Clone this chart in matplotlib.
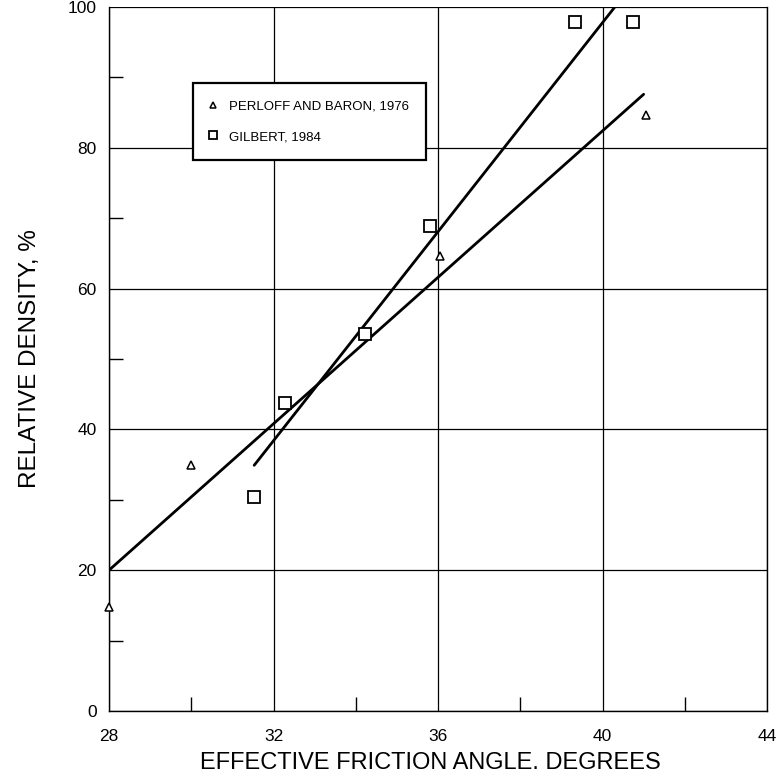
import matplotlib
matplotlib.use("Agg")
import matplotlib.pyplot as plt
from matplotlib.ticker import MultipleLocator

plt.rcParams['font.family'] = ['Liberation Sans', 'DejaVu Sans']

# Data
perloff_x = [28.0, 30.0, 36.05, 41.05]
perloff_y = [14.8, 35.0, 64.7, 84.7]
gilbert_x = [31.53, 32.28, 34.23, 35.81, 39.34, 40.73]
gilbert_y = [30.4, 43.8, 53.6, 68.9, 97.9, 97.9]
perloff_fit_x = [28.0, 41.0]
perloff_fit_y = [20.0, 87.6]
gilbert_fit_x = [31.53, 40.3]
gilbert_fit_y = [34.9, 100.0]
x_ticks = [28, 32, 36, 40, 44]
y_ticks = [0, 20, 40, 60, 80, 100]

fig = plt.figure(figsize=(7.76, 7.75), dpi=100)
ax = fig.add_axes([109/776, 1-711/775, (767-109)/776, (711-7)/775])

ax.set_xlim(28, 44)
ax.set_ylim(0, 100)
ax.set_xticks(x_ticks)
ax.set_yticks(y_ticks)
ax.xaxis.set_minor_locator(MultipleLocator(2))
ax.yaxis.set_minor_locator(MultipleLocator(10))
ax.tick_params(which='major', length=0, labelsize=12.5)
ax.tick_params(axis='y', which='major', pad=9)
ax.tick_params(axis='x', which='major', pad=13)
ax.tick_params(which='minor', direction='in', length=10, width=1, color='black')
ax.tick_params(axis='x', which='minor', top=False)
ax.tick_params(axis='y', which='minor', right=False)
ax.grid(True, which='major', color='black', linewidth=0.9)
for s in ['left', 'bottom', 'right']:
    ax.spines[s].set_linewidth(1.0)
ax.spines['top'].set_visible(False)

ax.plot(perloff_fit_x, perloff_fit_y, color='black', linewidth=2.0, solid_capstyle='round', zorder=3)
ax.plot(gilbert_fit_x, gilbert_fit_y, color='black', linewidth=2.0, solid_capstyle='round', zorder=3)

ax.plot(perloff_x, perloff_y, linestyle='none', marker='^', markersize=6,
        markerfacecolor='white', markeredgecolor='black', markeredgewidth=1.1,
        label='PERLOFF AND BARON, 1976', zorder=4, clip_on=False)
ax.plot(gilbert_x, gilbert_y, linestyle='none', marker='s', markersize=8,
        markerfacecolor='white', markeredgecolor='black', markeredgewidth=1.3,
        label='GILBERT, 1984', zorder=4, clip_on=False)

leg = ax.legend(loc='upper left', bbox_to_anchor=((193-109)/658, 1-(83-7)/704),
                frameon=True, fancybox=False, edgecolor='black', fontsize=9.5,
                handletextpad=0.9, borderpad=1.3, labelspacing=1.4,
                borderaxespad=0, handlelength=0.5, markerscale=0.8)
leg.get_frame().set_linewidth(1.6)
leg.get_frame().set_facecolor('white')
leg.get_frame().set_alpha(1)

ax.set_xlabel('EFFECTIVE FRICTION ANGLE. DEGREES', fontsize=17)
ax.xaxis.set_label_coords((430-109)/658, -(752-711)/704)
ax.set_ylabel('RELATIVE DENSITY, %', fontsize=17.5)
ax.yaxis.set_label_coords((41-109)/658, 0.5)

fig.savefig('out.png', dpi=100)
